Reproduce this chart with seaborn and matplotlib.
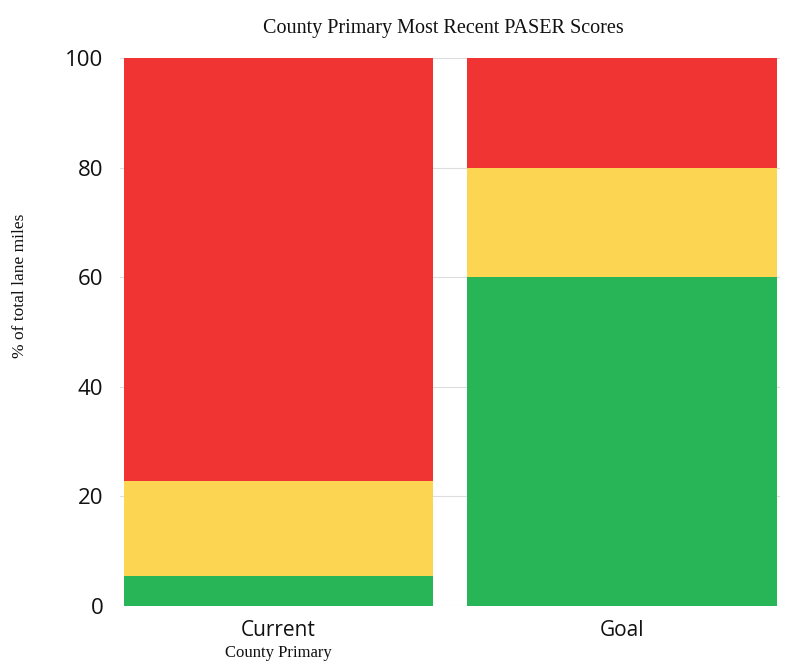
import matplotlib as mpl
import matplotlib.pyplot as plt
import pandas as pd
import seaborn as sns

mpl.use("Agg")

categories = ["Current", "Goal"]
good = [5.5, 60]
fair = [17.3, 20]
poor = [77.2, 20]

colors = {"poor": "#F03434", "fair": "#FCD652", "good": "#28B558"}


def main():
    sns.set_theme(style="white")
    df = pd.DataFrame({"Category": categories, "good": good, "fair": fair, "poor": poor})
    # cumulative heights, drawn tallest first so the stack shows
    df["top_fair"] = df["good"] + df["fair"]
    df["top_poor"] = df["top_fair"] + df["poor"]

    fig = plt.figure(figsize=(7.85, 6.67), dpi=100)
    ax = fig.add_axes([0.153, 0.0915, 0.841, 0.8215])

    for col, key in [("top_poor", "poor"), ("top_fair", "fair"), ("good", "good")]:
        sns.barplot(data=df, x="Category", y=col, color=colors[key], saturation=1,
                    width=0.9, ax=ax, zorder=2, linewidth=0)

    ax.set_ylim(0, 100)
    ax.set_xlim(-0.46, 1.46)
    ax.set_yticks([0, 20, 40, 60, 80, 100])
    ax.yaxis.grid(True, color="#DDDDDD", linewidth=0.8, zorder=0)
    ax.set_axisbelow(True)
    for s in ax.spines.values():
        s.set_visible(False)
    ax.tick_params(axis="y", labelsize=16, pad=12, length=0, labelcolor="#111111")
    ax.tick_params(axis="x", labelsize=15, pad=10, length=0, labelcolor="#111111")
    for lab in ax.get_xticklabels() + ax.get_yticklabels():
        lab.set_fontfamily("Open Sans")

    ax.set_xlabel("County Primary", fontfamily="Liberation Serif", fontsize=12, color="#111111")
    ax.set_ylabel("% of total lane miles", fontfamily="Liberation Serif", fontsize=12.5,
                  color="#111111")
    ax.xaxis.set_label_coords(0.24, -0.072)
    ax.yaxis.set_label_coords(-0.14, 0.585)
    ax.set_title("County Primary Most Recent PASER Scores", fontfamily="Liberation Serif",
                 fontsize=14.5, pad=18, x=0.49, color="#111111")

    fig.savefig("out.png", dpi=100)
    plt.close(fig)


if __name__ == "__main__":
    main()
